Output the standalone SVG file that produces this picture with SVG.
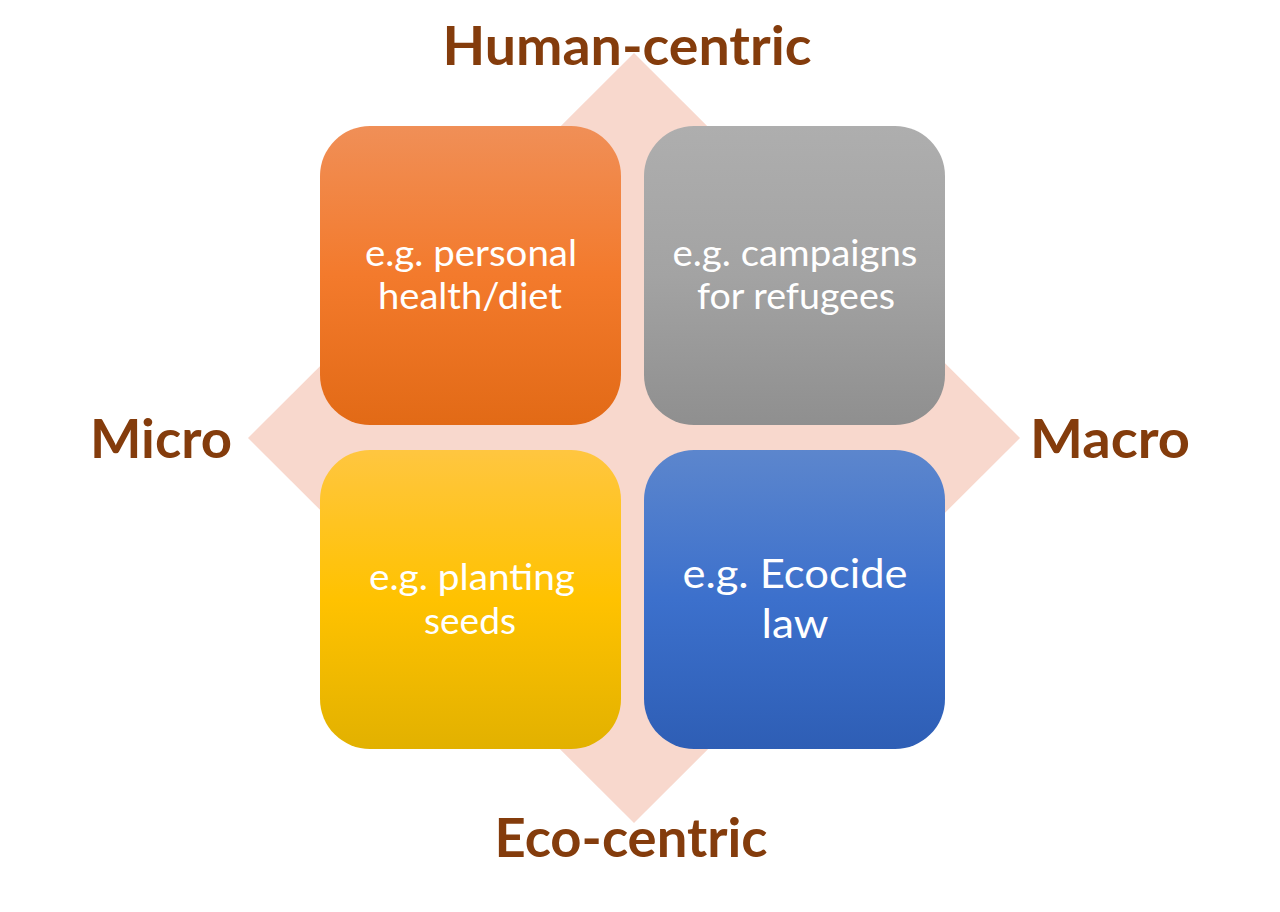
<svg xmlns="http://www.w3.org/2000/svg" width="1280" height="912" viewBox="0 0 1280 912">
<defs>
<linearGradient id="gOrange" x1="0" y1="0" x2="0" y2="1"><stop offset="0" stop-color="#F08F57"/><stop offset="0.5" stop-color="#F37A2C"/><stop offset="1" stop-color="#E26A16"/></linearGradient>
<linearGradient id="gGrey" x1="0" y1="0" x2="0" y2="1"><stop offset="0" stop-color="#AEAEAE"/><stop offset="0.5" stop-color="#A3A3A3"/><stop offset="1" stop-color="#8F8F8F"/></linearGradient>
<linearGradient id="gYellow" x1="0" y1="0" x2="0" y2="1"><stop offset="0" stop-color="#FFC640"/><stop offset="0.5" stop-color="#FFC200"/><stop offset="1" stop-color="#E2B100"/></linearGradient>
<linearGradient id="gBlue" x1="0" y1="0" x2="0" y2="1"><stop offset="0" stop-color="#5C86CD"/><stop offset="0.5" stop-color="#3C70CC"/><stop offset="1" stop-color="#2E5EB5"/></linearGradient>
</defs>
<style>
.axis{font-family:Lato,"Open Sans",sans-serif;font-weight:bold;fill:#843C0C;font-size:54px;text-anchor:middle}
.lbl{font-family:Lato,"Open Sans",sans-serif;fill:#FFFFFF;font-size:36px;text-anchor:middle}
.big{font-size:41px}
</style>
<rect width="1280" height="912" fill="#FFFFFF"/>
<g id="diamond"><polygon points="634,53 1020,438 634,823 248,438" fill="#F8D8CD"/></g>
<g id="axis-labels">
<text class="axis" x="627" y="65" textLength="369" lengthAdjust="spacingAndGlyphs">Human-centric</text>
<text class="axis" x="161" y="458" textLength="142" lengthAdjust="spacingAndGlyphs">Micro</text>
<text class="axis" x="1110" y="458" textLength="160" lengthAdjust="spacingAndGlyphs">Macro</text>
<text class="axis" x="631" y="857" textLength="273" lengthAdjust="spacingAndGlyphs">Eco-centric</text>
</g>
<g id="node-tl"><rect x="320" y="126" width="301" height="299" rx="50" fill="url(#gOrange)"/>
<text class="lbl" x="471" y="266" textLength="212" lengthAdjust="spacingAndGlyphs">e.g. personal</text><text class="lbl" x="470" y="309" textLength="184" lengthAdjust="spacingAndGlyphs">health/diet</text></g>
<g id="node-tr"><rect x="644" y="126" width="301" height="299" rx="50" fill="url(#gGrey)"/>
<text class="lbl" x="795" y="266" textLength="245" lengthAdjust="spacingAndGlyphs">e.g. campaigns</text><text class="lbl" x="796" y="309" textLength="198" lengthAdjust="spacingAndGlyphs">for refugees</text></g>
<g id="node-bl"><rect x="320" y="450" width="301" height="299" rx="50" fill="url(#gYellow)"/>
<text class="lbl" x="472" y="590" textLength="206" lengthAdjust="spacingAndGlyphs">e.g. planting</text><text class="lbl" x="470" y="634" textLength="92" lengthAdjust="spacingAndGlyphs">seeds</text></g>
<g id="node-br"><rect x="644" y="450" width="301" height="299" rx="50" fill="url(#gBlue)"/>
<text class="lbl big" x="795" y="588" textLength="225" lengthAdjust="spacingAndGlyphs">e.g. Ecocide</text><text class="lbl big" x="795" y="638" textLength="67" lengthAdjust="spacingAndGlyphs">law</text></g>
<g id="connectors"/>
</svg>
